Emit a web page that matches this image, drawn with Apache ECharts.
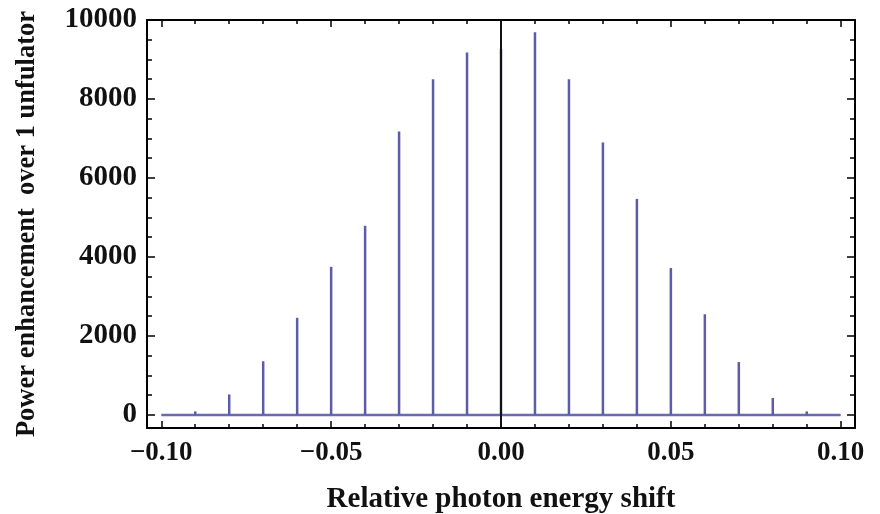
<!DOCTYPE html>
<html>
<head>
<meta charset="utf-8">
<script src="https://cdn.jsdelivr.net/npm/echarts@6/dist/echarts.min.js"></script>
<style>
html,body{margin:0;padding:0;background:#fff;}
#chart{width:880px;height:514px;}
</style>
</head>
<body>
<div id="chart"></div>
<script>
// ---- data ----
const peakX = [-0.09, -0.08, -0.07, -0.06, -0.05, -0.04, -0.03, -0.02, -0.01, 0.00, 0.01, 0.02, 0.03, 0.04, 0.05, 0.06, 0.07, 0.08, 0.09];
const peakY = [90, 520, 1360, 2460, 3750, 4790, 7180, 8500, 9180, 9270, 9690, 8500, 6900, 5470, 3720, 2550, 1340, 430, 90];
const baselineX = [-0.10, 0.10];
const baselineY = [0, 0];
const xMajorTicks = [-0.10, -0.05, 0.00, 0.05, 0.10];
const xMinorTicks = [-0.09, -0.08, -0.07, -0.06, -0.04, -0.03, -0.02, -0.01, 0.01, 0.02, 0.03, 0.04, 0.06, 0.07, 0.08, 0.09];
const yMajorTicks = [0, 2000, 4000, 6000, 8000, 10000];
const yMinorTicks = [500, 1000, 1500, 2500, 3000, 3500, 4500, 5000, 5500, 6500, 7000, 7500, 8500, 9000, 9500];
const xTitle = 'Relative photon energy shift';
const yTitle = 'Power enhancement  over 1 unfulator';

const X_MIN = -0.1042, X_MAX = 0.1042;
const Y_MIN = -330, Y_MAX = 10000;
const FONT = '"Liberation Serif", "Times New Roman", serif';
const LINE = {color: '#000', width: 2};

function xAxisDef(pos, ticks, len, showLine, labels) {
  return {
    type: 'value', position: pos, min: X_MIN, max: X_MAX, gridIndex: 0,
    axisLine: {show: showLine, onZero: false, lineStyle: LINE},
    axisTick: {show: true, inside: true, length: len, customValues: ticks, lineStyle: {color: '#000', width: 1.5}},
    axisLabel: labels ? {
      show: true, customValues: ticks, margin: 12, color: '#111',
      fontFamily: FONT, fontWeight: 'bold', fontSize: 27,
      formatter: v => (v < 0 ? '\u2212' : '') + Math.abs(v).toFixed(2)
    } : {show: false},
    splitLine: {show: false}
  };
}
function yAxisDef(pos, ticks, len, showLine, labels) {
  return {
    type: 'value', position: pos, min: Y_MIN, max: Y_MAX, gridIndex: 0,
    axisLine: {show: showLine, onZero: false, lineStyle: LINE},
    axisTick: {show: true, inside: true, length: len, customValues: ticks, lineStyle: {color: '#000', width: 1.5}},
    axisLabel: labels ? {
      show: true, customValues: ticks, margin: 10, color: '#111',
      fontFamily: FONT, fontWeight: 'bold', fontSize: 29,
      formatter: v => String(v)
    } : {show: false},
    splitLine: {show: false}
  };
}

const xAxes = [
  xAxisDef('bottom', xMajorTicks, 7, true, true),
  xAxisDef('bottom', xMinorTicks, 4, false, false),
  xAxisDef('top', xMajorTicks, 7, true, false),
  xAxisDef('top', xMinorTicks, 4, false, false)
];
Object.assign(xAxes[0], {
  name: xTitle, nameLocation: 'middle', nameGap: 57,
  nameTextStyle: {fontFamily: FONT, fontWeight: 'bold', fontSize: 29, color: '#111'}
});
const yAxes = [
  yAxisDef('left', yMajorTicks, 8, true, true),
  yAxisDef('left', yMinorTicks, 5, false, false),
  yAxisDef('right', yMajorTicks, 8, true, false),
  yAxisDef('right', yMinorTicks, 5, false, false)
];
Object.assign(yAxes[0], {
  name: yTitle, nameLocation: 'middle', nameGap: 106, nameRotate: 90,
  nameTextStyle: {fontFamily: FONT, fontWeight: 'bold', fontSize: 26.5, color: '#111'}
});

const chart = echarts.init(document.getElementById('chart'), null, {renderer: 'canvas'});
chart.setOption({
  animation: false,
  backgroundColor: '#fff',
  grid: {left: 147, top: 20, width: 708, height: 408, containLabel: false, outerBoundsMode: 'none'},
  xAxis: xAxes,
  yAxis: yAxes,
  series: [
    {
      type: 'line', xAxisIndex: 0, yAxisIndex: 0,
      data: baselineX.map((x, i) => [x, baselineY[i]]),
      showSymbol: false, symbol: 'none',
      lineStyle: {color: '#6a6ab2', width: 2.5},
      z: 2
    },
    {
      type: 'bar', xAxisIndex: 0, yAxisIndex: 0,
      data: peakX.map((x, i) => [x, peakY[i]]),
      barWidth: 2.5,
      itemStyle: {color: '#5c5ca8'},
      z: 3
    },
    {
      type: 'line', xAxisIndex: 0, yAxisIndex: 0, data: [],
      markLine: {
        silent: true, symbol: ['none', 'none'], label: {show: false},
        lineStyle: {color: '#111', width: 2, type: 'solid'},
        data: [{xAxis: 0}]
      },
      z: 5
    }
  ]
});
</script>
</body>
</html>
